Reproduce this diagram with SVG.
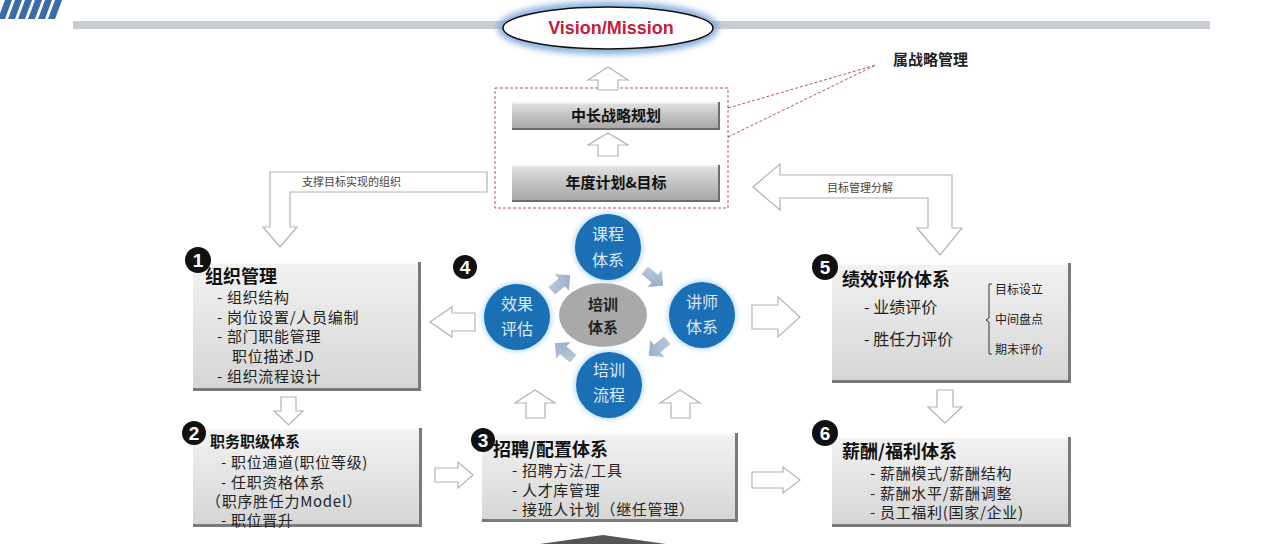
<svg xmlns="http://www.w3.org/2000/svg" width="1280" height="544" viewBox="0 0 1280 544">
<defs>
<style>
.ha{fill:#fff;stroke:#b4b4b4;stroke-width:1.2}
.cj{font-family:"Noto Sans CJK SC","Noto Sans",sans-serif}
.t{font-size:15px;letter-spacing:0.7px;fill:#222}
.ti{font-size:18px;font-weight:bold;fill:#111}
.sm{font-size:11px;fill:#444}
.bd{fill:#111}
.bn{font-family:"Liberation Sans",Arial,sans-serif;font-weight:bold;font-size:19px;fill:#fff;text-anchor:middle}
.bc{fill:#1b6fb5}
.ct{font-size:16px;fill:#dce9f6;text-anchor:middle}
.sa{fill:url(#sag)}
.ml{fill:none;stroke:#c0505a;stroke-width:1;stroke-dasharray:3 2}
</style>
<linearGradient id="boxg" x1="0" y1="0" x2="0" y2="1">
<stop offset="0" stop-color="#f2f2f2"/>
<stop offset="1" stop-color="#d6d6d6"/>
</linearGradient>
<linearGradient id="topg" x1="0" y1="0" x2="0" y2="1">
<stop offset="0" stop-color="#e4e4e4"/>
<stop offset="0.5" stop-color="#c4c4c4"/>
<stop offset="1" stop-color="#a8a8a8"/>
</linearGradient>
<linearGradient id="sag" x1="0" y1="0" x2="1" y2="1">
<stop offset="0" stop-color="#c3d0e0"/>
<stop offset="1" stop-color="#8fa6c2"/>
</linearGradient>
<filter id="blur" x="-20%" y="-50%" width="140%" height="200%"><feGaussianBlur stdDeviation="3"/></filter>
<filter id="cg" x="-30%" y="-30%" width="160%" height="160%"><feGaussianBlur stdDeviation="2"/></filter>
<polygon id="sarrow" points="-12,-5 1,-5 1,-11 12,0 1,11 1,5 -12,5"/>
</defs>

<!-- header -->
<g id="header">
<polygon points="5,0 12,0 5,19 -2,19" fill="#3a6aa8"/>
<polygon points="15,0 22,0 15,19 8,19" fill="#3a6aa8"/>
<polygon points="25,0 32,0 25,19 18,19" fill="#3a6aa8"/>
<polygon points="35,0 42,0 35,19 28,19" fill="#3a6aa8"/>
<polygon points="45,0 52,0 45,19 38,19" fill="#3a6aa8"/>
<polygon points="55,0 62,0 55,19 48,19" fill="#3a6aa8"/>
<rect x="73" y="21" width="1137" height="8" fill="#c8ccd3"/>
</g>

<g id="vision">
<ellipse cx="608" cy="28" rx="106" ry="22" fill="none" stroke="#7fa8dc" stroke-width="8" filter="url(#blur)"/>
<ellipse cx="608" cy="28" rx="105" ry="21" fill="#fff" stroke="#111" stroke-width="1.5"/>
<text x="611" y="34" text-anchor="middle" font-family="Liberation Sans,Arial,sans-serif" font-weight="bold" font-size="18" fill="#c41e3a">Vision/Mission</text>
</g>

<!-- strategy group -->
<g id="strategy">
<rect x="495" y="88" width="233" height="120" class="ml"/>
<line x1="728" y1="108" x2="876" y2="65" class="ml"/>
<line x1="728" y1="137" x2="876" y2="65" class="ml"/>
<text x="893" y="65" class="cj" font-size="15" font-weight="bold" fill="#222">属战略管理</text>
</g>

<g id="plan-long">
<rect x="512" y="102" width="208" height="28" fill="#6e6e6e"/>
<rect x="512" y="102" width="206" height="26" fill="url(#topg)"/>
<line x1="513" y1="103" x2="717" y2="103" stroke="#f5f5f5" stroke-width="1.5"/>
<text x="616" y="121" text-anchor="middle" class="cj" font-size="15" font-weight="bold" fill="#111">中长战略规划</text>
</g>

<g id="plan-year">
<rect x="512" y="165" width="208" height="37" fill="#6e6e6e"/>
<rect x="512" y="165" width="206" height="35" fill="url(#topg)"/>
<line x1="513" y1="166" x2="717" y2="166" stroke="#f5f5f5" stroke-width="1.5"/>
<text x="616" y="188" text-anchor="middle" class="cj" font-size="15" font-weight="bold" fill="#111">年度计划&amp;目标</text>
</g>

<!-- box 1 -->
<g id="box1">
<rect x="193" y="262" width="228" height="129" fill="#7a7a7a"/>
<rect x="193" y="262" width="225" height="126" fill="url(#boxg)"/>
<line x1="194" y1="263" x2="417" y2="263" stroke="#fff" stroke-width="1.5"/>
<text x="205" y="283" class="cj ti">组织管理</text>
<text x="217" y="303" class="cj t">- 组织结构</text>
<text x="217" y="323" class="cj t">- 岗位设置/人员编制</text>
<text x="217" y="342" class="cj t">- 部门职能管理</text>
<text x="232" y="362" class="cj t">职位描述JD</text>
<text x="217" y="382" class="cj t">- 组织流程设计</text>
<circle cx="198" cy="260" r="13" class="bd"/>
<text x="198" y="267" class="bn">1</text>
</g>

<!-- box 2 -->
<g id="box2">
<rect x="193" y="428" width="229" height="99" fill="#7a7a7a"/>
<rect x="193" y="428" width="226" height="96" fill="url(#boxg)"/>
<line x1="194" y1="429" x2="418" y2="429" stroke="#fff" stroke-width="1.5"/>
<text x="210" y="447" class="cj" font-size="15" font-weight="bold" fill="#111">职务职级体系</text>
<text x="221" y="468" class="cj t">- 职位通道(职位等级)</text>
<text x="221" y="488" class="cj t">- 任职资格体系</text>
<text x="206" y="507" class="cj t">（职序胜任力Model）</text>
<text x="221" y="526" class="cj t">- 职位晋升</text>
<circle cx="194" cy="433" r="12" class="bd"/>
<text x="194" y="440" class="bn">2</text>
</g>

<!-- box 3 -->
<g id="box3">
<rect x="482" y="433" width="256" height="89" fill="#7a7a7a"/>
<rect x="482" y="433" width="253" height="86" fill="url(#boxg)"/>
<line x1="483" y1="434" x2="734" y2="434" stroke="#fff" stroke-width="1.5"/>
<text x="493" y="456" class="cj ti">招聘/配置体系</text>
<text x="512" y="476" class="cj t">- 招聘方法/工具</text>
<text x="512" y="495.5" class="cj t">- 人才库管理</text>
<text x="512" y="515" class="cj t">- 接班人计划（继任管理）</text>
<circle cx="483" cy="440" r="12" class="bd"/>
<text x="483" y="447" class="bn">3</text>
</g>

<!-- training (4) -->
<g id="training">
<circle cx="465" cy="267" r="12" class="bd"/>
<text x="465" y="274" class="bn">4</text>
<ellipse cx="603" cy="315" rx="44" ry="32" fill="#a9a9a9"/>
<text x="603" y="310" text-anchor="middle" class="cj" font-size="15" font-weight="bold" fill="#222">培训</text>
<text x="603" y="333" text-anchor="middle" class="cj" font-size="15" font-weight="bold" fill="#222">体系</text>
</g>
<g id="c-course">
<circle cx="608" cy="247" r="35" fill="#bfe0f8" filter="url(#cg)"/>
<circle cx="608" cy="247" r="33" class="bc"/>
<text x="608" y="240" class="cj ct">课程</text>
<text x="608" y="266" class="cj ct">体系</text>
</g>
<g id="c-eval">
<circle cx="517" cy="317" r="35" fill="#bfe0f8" filter="url(#cg)"/>
<circle cx="517" cy="317" r="33" class="bc"/>
<text x="517" y="310" class="cj ct">效果</text>
<text x="517" y="335" class="cj ct">评估</text>
</g>
<g id="c-teacher">
<circle cx="702" cy="315" r="35" fill="#bfe0f8" filter="url(#cg)"/>
<circle cx="702" cy="315" r="33" class="bc"/>
<text x="702" y="308" class="cj ct">讲师</text>
<text x="702" y="333" class="cj ct">体系</text>
</g>
<g id="c-process">
<circle cx="609" cy="385" r="35" fill="#bfe0f8" filter="url(#cg)"/>
<circle cx="609" cy="385" r="33" class="bc"/>
<text x="609" y="376" class="cj ct">培训</text>
<text x="609" y="401" class="cj ct">流程</text>
</g>

<!-- box 5 -->
<g id="box5">
<rect x="832" y="263" width="239" height="120" fill="#7a7a7a"/>
<rect x="832" y="263" width="236" height="117" fill="url(#boxg)"/>
<line x1="833" y1="264" x2="1067" y2="264" stroke="#fff" stroke-width="1.5"/>
<text x="842" y="286" class="cj ti">绩效评价体系</text>
<text x="864" y="313" class="cj" font-size="16" fill="#222">- 业绩评价</text>
<text x="864" y="345" class="cj" font-size="16" fill="#222">- 胜任力评价</text>
<path d="M992,284 L989,284 L989,318 L986,320 L989,322 L989,354 L992,354" fill="none" stroke="#333" stroke-width="1"/>
<text x="995" y="294" class="cj" font-size="12" fill="#222">目标设立</text>
<text x="995" y="324" class="cj" font-size="12" fill="#222">中间盘点</text>
<text x="995" y="354" class="cj" font-size="12" fill="#222">期末评价</text>
<circle cx="825" cy="267" r="13" class="bd"/>
<text x="825" y="274" class="bn">5</text>
</g>

<!-- box 6 -->
<g id="box6">
<rect x="832" y="437" width="239" height="90" fill="#7a7a7a"/>
<rect x="832" y="437" width="236" height="87" fill="url(#boxg)"/>
<line x1="833" y1="438" x2="1067" y2="438" stroke="#fff" stroke-width="1.5"/>
<text x="842" y="458" class="cj ti">薪酬/福利体系</text>
<text x="870" y="479" class="cj t">- 薪酬模式/薪酬结构</text>
<text x="870" y="499" class="cj t">- 薪酬水平/薪酬调整</text>
<text x="870" y="518" class="cj t">- 员工福利(国家/企业)</text>
<circle cx="825" cy="433" r="13" class="bd"/>
<text x="825" y="440" class="bn">6</text>
</g>

<!-- connectors -->
<g id="connectors">
<polygon class="ha" points="598,90 598,80 588,80 608,67 628,80 618,80 618,90"/>
<polygon class="ha" points="598,156 598,145 588,145 608,133 628,145 618,145 618,156"/>
<polygon class="ha" points="487,172 270,172 270,227 263,227 280,247 297,227 290,227 290,192 487,192"/>
<text x="302" y="186" class="cj sm">支撑目标实现的组织</text>
<polygon class="ha" points="753,187 780,164 780,175 952,175 952,228 962,228 940,255 917,228 928,228 928,198 780,198 780,210"/>
<text x="827" y="192" class="cj sm">目标管理分解</text>
<polygon class="ha" points="475,313 452,313 452,307 430,322 452,337 452,331 475,331"/>
<polygon class="ha" points="752,305 778,305 778,297 800,317 778,337 778,329 752,329"/>
<polygon class="ha" points="281,397 296,397 296,411 303,411 288.5,425 274,411 281,411"/>
<polygon class="ha" points="435,468 458,468 458,462 473,475 458,488 458,482 435,482"/>
<polygon class="ha" points="526,418 526,403 515,403 535,390 555,403 545,403 545,418"/>
<polygon class="ha" points="671,418 671,403 660,403 680,390 700,403 690,403 690,418"/>
<polygon class="ha" points="752,472 783,472 783,467 800,480 783,493 783,488 752,488"/>
<polygon class="ha" points="937,390 953,390 953,407 962,407 945,423 928,407 937,407"/>
<use href="#sarrow" class="sa" transform="translate(561,283) rotate(-40)"/>
<use href="#sarrow" class="sa" transform="translate(654,278) rotate(40)"/>
<use href="#sarrow" class="sa" transform="translate(658,348) rotate(140)"/>
<use href="#sarrow" class="sa" transform="translate(564,351) rotate(-140)"/>
</g>

<polygon points="540,544 603,535 666,544" fill="#555"/>
</svg>
